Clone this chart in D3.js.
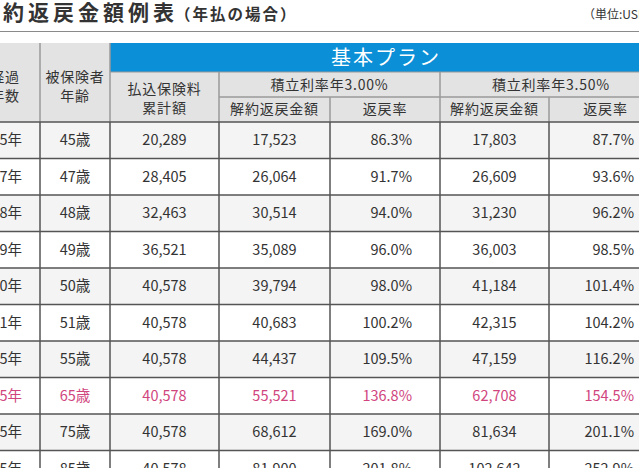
<!DOCTYPE html>
<html>
<head>
<meta charset="utf-8">
<script src="https://cdn.jsdelivr.net/npm/d3@7/dist/d3.min.js"></script>
<style>
  html, body { margin: 0; padding: 0; background: #fff; overflow: hidden; }
  svg { display: block; font-family: "Noto Sans CJK JP", "Noto Sans", sans-serif; }
</style>
</head>
<body>
<div id="chart"></div>
<script>
// table values
var years = ['5年', '7年', '8年', '9年', '10年', '11年', '15年', '25年', '35年', '45年'];
var ages = [45, 47, 48, 49, 50, 51, 55, 65, 75, 85];
var paid = [20289, 28405, 32463, 36521, 40578, 40578, 40578, 40578, 40578, 40578];
var surrender300 = [17523, 26064, 30514, 35089, 39794, 40683, 44437, 55521, 68612, 81900];
var rate300 = [86.3, 91.7, 94.0, 96.0, 98.0, 100.2, 109.5, 136.8, 169.0, 201.8];
var surrender350 = [17803, 26609, 31230, 36003, 41184, 42315, 47159, 62708, 81634, 102642];
var rate350 = [87.7, 93.6, 96.2, 98.5, 101.4, 104.2, 116.2, 154.5, 201.1, 252.9];
var highlightAge = 65;

var W = 639, H = 468;
var pink = '#d0457e', ink = '#333', blue = '#0b8fd6';

var svg = d3.select('#chart').append('svg').attr('width', W).attr('height', H);

// column edges (layout)
var edges = [-34, 40, 110, 219, 330, 440, 549, 662];
var col = function(i) { return {x0: edges[i], x1: edges[i + 1], cx: (edges[i] + edges[i + 1]) / 2}; };

var y = d3.scaleBand().domain(d3.range(years.length)).range([122, 122 + 36.5 * years.length]).paddingInner(0);

var fmt = d3.format(',');
var pct = function(v) { return v.toFixed(1) + '%'; };

// title
var title = svg.append('text').attr('x', -22).attr('y', 20).attr('fill', ink);
title.append('tspan').attr('font-size', 21).attr('font-weight', 'bold').attr('letter-spacing', 4).text('解約返戻金額例表');
title.append('tspan').attr('font-size', 15.5).attr('font-weight', 'bold').attr('letter-spacing', 2).attr('dx', -3).text('（年払の場合）');
svg.append('text').attr('x', 583).attr('y', 19).attr('font-size', 12).attr('fill', ink).text('（単位:USD）');

svg.append('line').attr('x1', 0).attr('x2', W).attr('y1', 31.5).attr('y2', 31.5)
  .attr('stroke', '#8a8a8a').attr('stroke-width', 1);

// header
var hTop = 43, hBlue = 72, hMid = 97, hBot = 122;
var hdr = svg.append('g');
hdr.append('rect').attr('x', edges[0]).attr('y', hTop).attr('width', edges[2] - edges[0]).attr('height', hBot - hTop).attr('fill', '#e3e3e3');
hdr.append('rect').attr('x', edges[2]).attr('y', hBlue).attr('width', edges[7] - edges[2]).attr('height', hBot - hBlue).attr('fill', '#e3e3e3');
hdr.append('rect').attr('x', edges[2]).attr('y', hTop).attr('width', edges[7] - edges[2]).attr('height', hBlue - hTop).attr('fill', blue);

hdr.append('text').attr('x', (edges[2] + edges[7]) / 2).attr('y', hTop + 22).attr('text-anchor', 'middle')
  .attr('font-size', 20).attr('letter-spacing', 2).attr('fill', '#fff').text('基本プラン');

function multi(x, ys, lines) {
  lines.forEach(function(t, i) {
    hdr.append('text').attr('x', x).attr('y', ys[i]).attr('text-anchor', 'middle')
      .attr('font-size', 14).attr('letter-spacing', 0.8).attr('fill', ink).text(t);
  });
}
multi(5, [82, 101], ['経過', '年数']);
multi(col(1).cx, [82, 101], ['被保険者', '年齢']);
multi(col(2).cx, [94, 113], ['払込保険料', '累計額']);
multi((edges[3] + edges[5]) / 2, [90], ['積立利率年3.00%']);
multi((edges[5] + edges[7]) / 2, [90], ['積立利率年3.50%']);
multi(col(3).cx, [114], ['解約返戻金額']);
multi(col(4).cx, [114], ['返戻率']);
multi(col(5).cx, [114], ['解約返戻金額']);
multi(col(6).cx, [114], ['返戻率']);

var hl = '#9a9a9a';
[[edges[1], hTop, hBot], [edges[2], hTop, hBot], [edges[3], hBlue, hBot], [edges[5], hBlue, hBot],
 [edges[4], hMid, hBot], [edges[6], hMid, hBot]].forEach(function(l) {
  hdr.append('line').attr('x1', l[0]).attr('x2', l[0]).attr('y1', l[1]).attr('y2', l[2]).attr('stroke', hl).attr('stroke-width', 1.5);
});
hdr.append('line').attr('x1', edges[2]).attr('x2', edges[7]).attr('y1', hBlue).attr('y2', hBlue).attr('stroke', hl).attr('stroke-width', 1);
hdr.append('line').attr('x1', edges[3]).attr('x2', edges[7]).attr('y1', hMid).attr('y2', hMid).attr('stroke', hl).attr('stroke-width', 1.5);

// body rows
var rows = svg.append('g').selectAll('g').data(d3.range(years.length)).join('g')
  .attr('transform', function(i) { return 'translate(0,' + y(i) + ')'; });

rows.append('rect').attr('x', edges[0]).attr('width', edges[7] - edges[0]).attr('height', y.bandwidth())
  .attr('fill', function(i) { return i % 2 === 0 ? '#f4f4f4' : '#fff'; });

var cells = [
  {c: 0, v: function(i) { return years[i]; }, a: 'end', pad: 18},
  {c: 1, v: function(i) { return ages[i] + '歳'; }, a: 'middle'},
  {c: 2, v: function(i) { return fmt(paid[i]); }, a: 'middle'},
  {c: 3, v: function(i) { return fmt(surrender300[i]); }, a: 'middle'},
  {c: 4, v: function(i) { return pct(rate300[i]); }, a: 'end', pad: 28},
  {c: 5, v: function(i) { return fmt(surrender350[i]); }, a: 'middle'},
  {c: 6, v: function(i) { return pct(rate350[i]); }, a: 'end', pad: 28}
];

cells.forEach(function(cell) {
  rows.append('text')
    .attr('x', cell.a === 'end' ? col(cell.c).x1 - cell.pad : col(cell.c).cx)
    .attr('y', y.bandwidth() / 2 + 5)
    .attr('text-anchor', cell.a)
    .attr('font-size', 14.5)
    .attr('fill', function(i) { return ages[i] === highlightAge ? pink : ink; })
    .text(cell.v);
});

var grid = svg.append('g').attr('stroke', '#555').attr('stroke-width', 1.5);
y.domain().forEach(function(i) {
  grid.append('line').attr('x1', edges[0]).attr('x2', edges[7]).attr('y1', y(i)).attr('y2', y(i));
});
edges.slice(1, 7).forEach(function(x) {
  grid.append('line').attr('x1', x).attr('x2', x).attr('y1', hBot).attr('y2', y.range()[1]);
});
</script>
</body>
</html>
